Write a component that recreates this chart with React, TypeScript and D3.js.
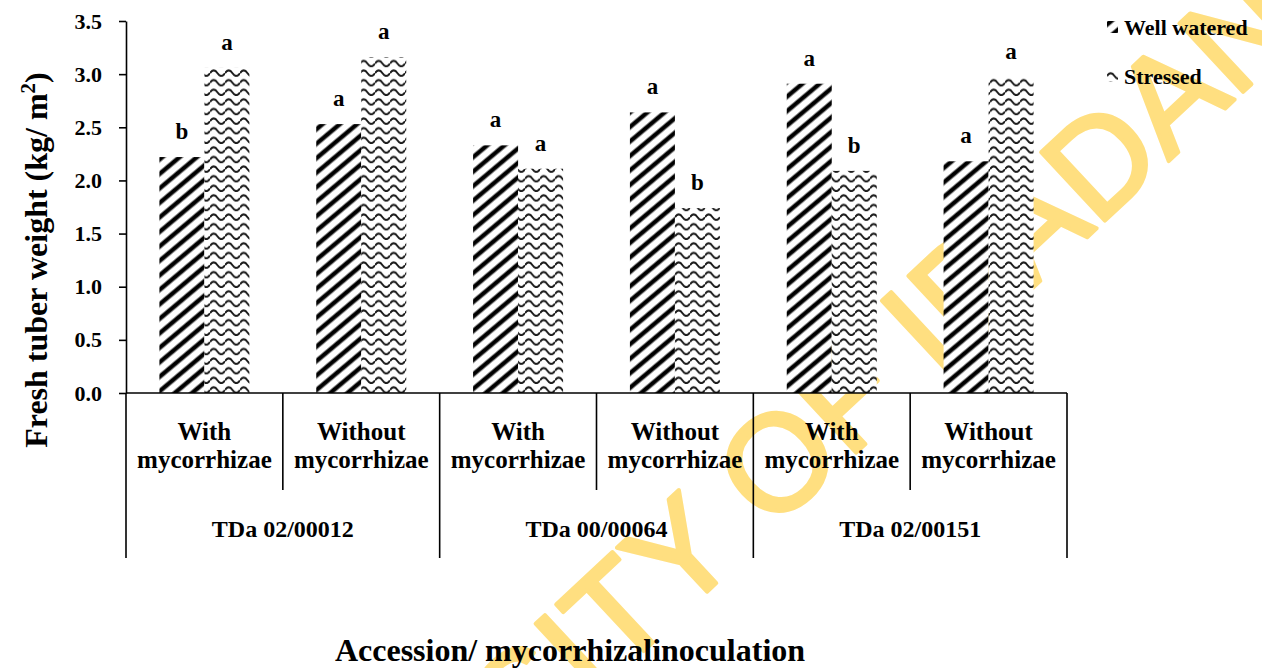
import React, { useEffect, useRef } from 'react'
import * as d3 from 'd3'

// values
const accessions = ['TDa 02/00012', 'TDa 00/00064', 'TDa 02/00151']
const inoculations = ['With', 'Without']
const seriesNames = ['Well watered', 'Stressed']
const wellWatered = [2.22, 2.53, 2.33, 2.64, 2.91, 2.18]
const stressed = [3.06, 3.16, 2.11, 1.74, 2.09, 2.97]
const wellWateredLetters = ['b', 'a', 'a', 'a', 'a', 'a']
const stressedLetters = ['a', 'a', 'a', 'b', 'b', 'a']
const yTicks = [0, 0.5, 1, 1.5, 2, 2.5, 3, 3.5]

const width = 1262
const height = 668
const plot = { left: 126, right: 1067, top: 21, bottom: 393 }
const serif = '"Times New Roman", "Liberation Serif", serif'

const App = () => {
  const ref = useRef<SVGSVGElement>(null)

  useEffect(() => {
    const svg = d3.select(ref.current)
    svg.selectAll('*').remove()

    const defs = svg.append('defs')

    // diagonal stripes for well watered
    const stripes = defs.append('pattern')
      .attr('id', 'stripes')
      .attr('patternUnits', 'userSpaceOnUse')
      .attr('width', 20)
      .attr('height', 11.1)
      .attr('patternTransform', 'rotate(-40)')
    stripes.append('rect').attr('width', 20).attr('height', 11.1).attr('fill', '#fff')
    stripes.append('rect').attr('y', 0).attr('width', 20).attr('height', 5.4).attr('fill', '#888')
    stripes.append('rect').attr('y', 0.9).attr('width', 20).attr('height', 3.6).attr('fill', '#000')

    // wavy lines for stressed
    const waves = defs.append('pattern')
      .attr('id', 'waves')
      .attr('patternUnits', 'userSpaceOnUse')
      .attr('width', 15)
      .attr('height', 9.6)
    waves.append('rect').attr('width', 15).attr('height', 9.6).attr('fill', '#fff')
    waves.append('path')
      .attr('d', 'M0 6 Q3.75 0.5 7.5 6 T15 6')
      .attr('fill', 'none')
      .attr('stroke', '#1a1a1a')
      .attr('stroke-width', 2)

    const fills = ['url(#stripes)', 'url(#waves)']

    // watermark, behind everything
    svg.append('text')
      .attr('transform', 'translate(148,1113) rotate(-43)')
      .attr('font-family', '"Liberation Sans", Arial, sans-serif')
      .attr('font-size', 136)
      .attr('fill', '#FFDF80')
      .attr('stroke', '#FFDF80')
      .attr('stroke-width', 4)
      .attr('stroke-linejoin', 'round')
      .text('UNIVERSITY OF IBADAN')

    const categories = d3.range(accessions.length * inoculations.length)

    const x = d3.scaleBand<number>()
      .domain(categories)
      .range([plot.left, plot.right])

    const xGroup = d3.scaleBand<string>()
      .domain(accessions)
      .range([plot.left, plot.right])

    const xSeries = d3.scaleBand<string>()
      .domain(seriesNames)
      .range([-45, 45])

    const y = d3.scaleLinear()
      .domain([0, 3.5])
      .range([plot.bottom, plot.top])

    const series = [wellWatered, stressed]
    const letters = [wellWateredLetters, stressedLetters]

    // bars
    const bars = svg.append('g')
    seriesNames.forEach((name, s) => {
      bars.selectAll(null)
        .data(categories)
        .enter()
        .append('rect')
        .attr('x', d => x(d)! + x.bandwidth() / 2 + xSeries(name)!)
        .attr('y', d => y(series[s][d]))
        .attr('width', xSeries.bandwidth())
        .attr('height', d => y(0) - y(series[s][d]))
        .attr('fill', fills[s])

      bars.selectAll(null)
        .data(categories)
        .enter()
        .append('text')
        .attr('x', d => x(d)! + x.bandwidth() / 2 + xSeries(name)! + xSeries.bandwidth() / 2)
        .attr('y', d => y(series[s][d]) - 18)
        .attr('text-anchor', 'middle')
        .attr('font-family', serif)
        .attr('font-weight', 'bold')
        .attr('font-size', 23)
        .text(d => letters[s][d])
    })

    // y axis
    const yAxis = svg.append('g')
      .attr('transform', `translate(${plot.left},0)`)
      .call(d3.axisLeft(y)
        .tickValues(yTicks)
        .tickFormat(d3.format('.1f'))
        .tickSize(7)
        .tickSizeOuter(0)
        .tickPadding(17))
    yAxis.select('.domain').attr('stroke', '#000').attr('stroke-width', 1.6)
    yAxis.selectAll('.tick line').attr('stroke', '#000').attr('stroke-width', 1.6)
    yAxis.selectAll('.tick text')
      .attr('font-family', serif)
      .attr('font-weight', 'bold')
      .attr('font-size', 22)
      .attr('fill', '#000')

    // x axis with two-level category table
    const xAxis = svg.append('g').attr('stroke', '#000').attr('stroke-width', 1.6)
    xAxis.append('line')
      .attr('x1', plot.left).attr('x2', plot.right)
      .attr('y1', plot.bottom).attr('y2', plot.bottom)

    xAxis.selectAll(null)
      .data(categories.filter(d => d % inoculations.length === 1))
      .enter()
      .append('line')
      .attr('x1', d => x(d)!).attr('x2', d => x(d)!)
      .attr('y1', plot.bottom).attr('y2', 490)

    xAxis.selectAll(null)
      .data(accessions)
      .enter()
      .append('line')
      .attr('x1', d => xGroup(d)!).attr('x2', d => xGroup(d)!)
      .attr('y1', plot.bottom).attr('y2', 558)

    xAxis.append('line')
      .attr('x1', plot.right).attr('x2', plot.right)
      .attr('y1', plot.bottom).attr('y2', 558)

    const subLabels = svg.append('g')
      .attr('font-family', serif)
      .attr('font-weight', 'bold')
      .attr('font-size', 25)
      .attr('text-anchor', 'middle')

    const subText = subLabels.selectAll(null)
      .data(categories)
      .enter()
      .append('text')
      .attr('x', d => x(d)! + x.bandwidth() / 2)
      .attr('y', 440)
    subText.append('tspan')
      .attr('x', d => x(d)! + x.bandwidth() / 2)
      .text(d => inoculations[d % inoculations.length])
    subText.append('tspan')
      .attr('x', d => x(d)! + x.bandwidth() / 2)
      .attr('dy', 28)
      .text('mycorrhizae')

    svg.append('g')
      .selectAll('text')
      .data(accessions)
      .enter()
      .append('text')
      .attr('x', d => xGroup(d)! + xGroup.bandwidth() / 2)
      .attr('y', 537)
      .attr('text-anchor', 'middle')
      .attr('font-family', serif)
      .attr('font-weight', 'bold')
      .attr('font-size', 24)
      .text(d => d)

    // axis titles
    svg.append('text')
      .attr('x', 570)
      .attr('y', 661)
      .attr('text-anchor', 'middle')
      .attr('font-family', serif)
      .attr('font-weight', 'bold')
      .attr('font-size', 32)
      .text('Accession/ mycorrhizalinoculation')

    const yTitle = svg.append('text')
      .attr('transform', 'translate(47,260) rotate(-90)')
      .attr('text-anchor', 'middle')
      .attr('font-family', serif)
      .attr('font-weight', 'bold')
      .attr('font-size', 32)
    yTitle.append('tspan').text('Fresh tuber weight (kg/ m')
    yTitle.append('tspan').attr('font-size', 21).attr('dy', -12).text('2')
    yTitle.append('tspan').attr('dy', 12).text(')')

    // legend
    const legend = svg.append('g')
      .selectAll('g')
      .data(seriesNames)
      .enter()
      .append('g')
      .attr('transform', (d, i) => `translate(1107,${21 + i * 49})`)
    legend.append('rect')
      .attr('width', 11)
      .attr('height', 12)
      .attr('fill', (d, i) => fills[i])
    legend.append('text')
      .attr('x', 17)
      .attr('y', 14)
      .attr('font-family', serif)
      .attr('font-weight', 'bold')
      .attr('font-size', 22)
      .text(d => d)

    return () => { svg.selectAll('*').remove() }
  }, [])

  return (
    <svg
      ref={ref}
      width={width}
      height={height}
      style={{ position: 'absolute', left: 0, top: 0, background: '#fff' }}
    />
  )
}

export default App
